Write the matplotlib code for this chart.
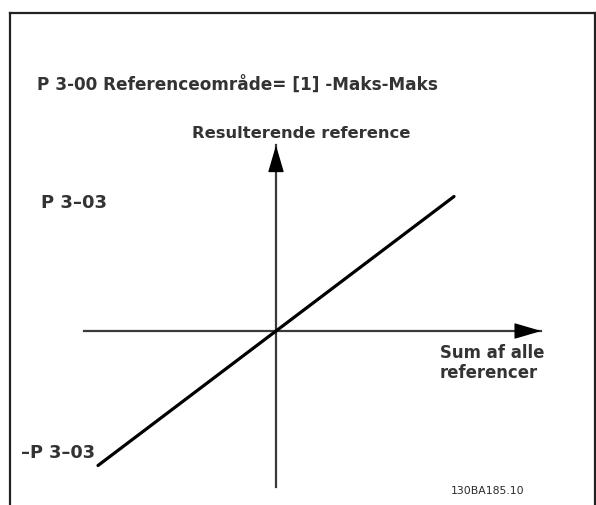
import matplotlib.pyplot as plt

# reference range: -P 3-03 .. P 3-03 (normalised)
sum_refs = [-1.0, 0.0, 1.0]
result_ref = [-1.0, 0.0, 1.0]

x_axis_range = (-1.08, 1.49)
y_axis_range = (-1.16, 1.38)

title = "P 3-00 Referenceområde= [1] -Maks-Maks"
y_label = "Resulterende reference"
x_label = "Sum af alle\nreferencer"
max_label = "P 3–03"
min_label = "–P 3–03"
drawing_id = "130BA185.10"

W, H = 596, 505
fig = plt.figure(figsize=(W / 100, H / 100), dpi=100)

# overlay in pixel units for frame and texts
ov = fig.add_axes([0, 0, 1, 1])
ov.set_xlim(0, W)
ov.set_ylim(H, 0)
ov.axis('off')

# data axes, origin at pixel (276, 331)
ax = fig.add_axes([0, 0, 1, 1])
ax.set_xlim(-276 / 178, (W - 276) / 178)
ax.set_ylim(-(H - 331) / 134.5, 331 / 134.5)
ax.axis('off')
ax.patch.set_alpha(0)

# frame
ov.plot([10, W], [13, 13], color='#222222', lw=1.6)
ov.plot([10, 10], [13, H], color='#222222', lw=1.6)
ov.plot([W - 1.5, W - 1.5], [13, H], color='#222222', lw=1.6)

axis_col = '#3a3a3a'
arrow = dict(arrowstyle='-|>,head_length=1.7,head_width=0.5', mutation_scale=10,
             color='black', lw=1.0, shrinkA=0, shrinkB=0)
ax.plot(x_axis_range, [0, 0], color=axis_col, lw=1.6)
ax.annotate('', xy=(x_axis_range[1], 0), xytext=(x_axis_range[1] - 0.14, 0), arrowprops=arrow)
ax.plot([0, 0], y_axis_range, color=axis_col, lw=1.6)
ax.annotate('', xy=(0, y_axis_range[1]), xytext=(0, y_axis_range[1] - 0.17), arrowprops=arrow)

ax.plot(sum_refs, result_ref, color='black', lw=2.3, solid_capstyle='round')

txt = dict(color='#333333', family='DejaVu Sans', weight='bold')
ov.text(37, 86, title, fontsize=12.2, va='center', ha='left', **txt)
ov.text(301, 133, y_label, fontsize=11.8, va='center', ha='center', **txt)
ov.text(41, 203, max_label, fontsize=13, va='center', ha='left', **txt)
ov.text(21, 453, min_label, fontsize=12.8, va='center', ha='left', **txt)
ov.text(440, 363, x_label, fontsize=11.9, va='center', ha='left', linespacing=1.1, **txt)
ov.text(451, 491, drawing_id, fontsize=7.8, va='center', ha='left',
        color='#2a2a2a', family='DejaVu Sans')

fig.savefig('out.png', dpi=100)
